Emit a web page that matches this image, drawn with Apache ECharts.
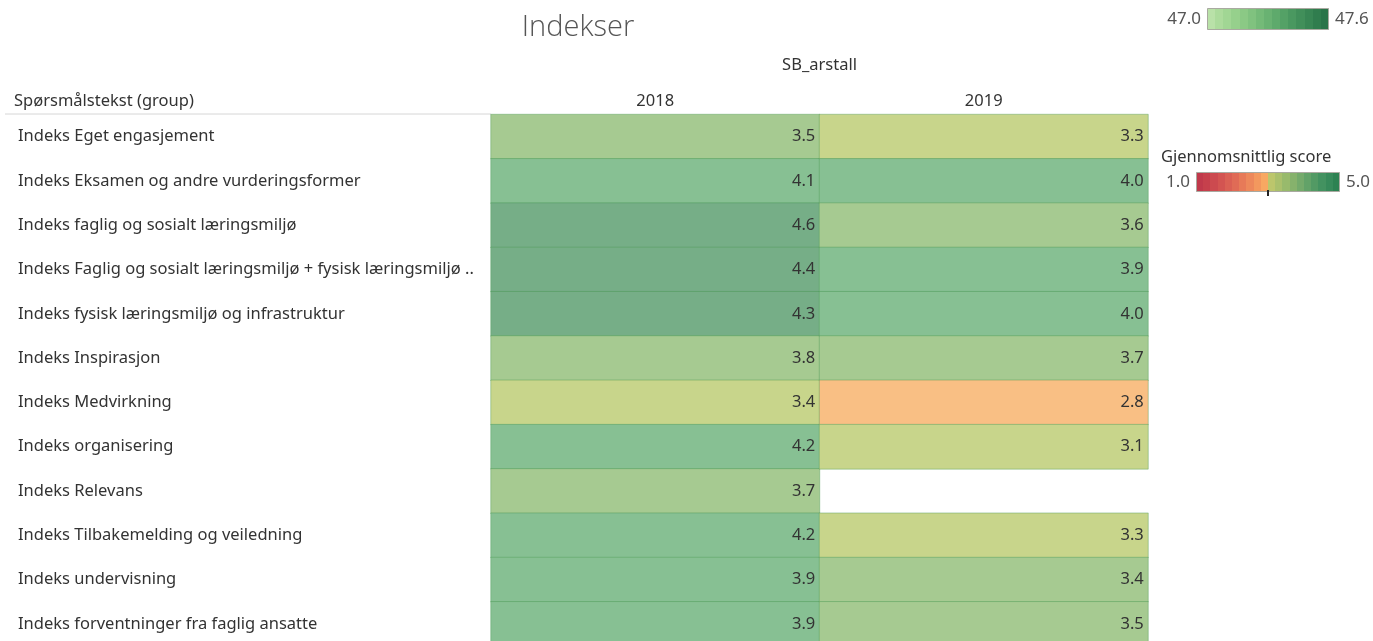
<!DOCTYPE html>
<html>
<head>
<meta charset="utf-8">
<script src="https://cdn.jsdelivr.net/npm/echarts@6/dist/echarts.min.js"></script>
<style>
html,body{margin:0;padding:0;background:#fff;overflow:hidden;}
#c{width:1373px;height:650px;}
</style>
</head>
<body>
<div id="c"></div>
<script>
// ---- data ----
var questions = [
  'Indeks Eget engasjement',
  'Indeks Eksamen og andre vurderingsformer',
  'Indeks faglig og sosialt læringsmiljø',
  'Indeks Faglig og sosialt læringsmiljø + fysisk læringsmiljø ..',
  'Indeks fysisk læringsmiljø og infrastruktur',
  'Indeks Inspirasjon',
  'Indeks Medvirkning',
  'Indeks organisering',
  'Indeks Relevans',
  'Indeks Tilbakemelding og veiledning',
  'Indeks undervisning',
  'Indeks forventninger fra faglig ansatte'
];
var years = ['2018', '2019'];
var scores2018 = [3.5, 4.1, 4.6, 4.4, 4.3, 3.8, 3.38, 4.2, 3.7, 4.2, 3.9, 3.9];
var scores2019 = [3.3, 4.0, 3.6, 3.9, 4.0, 3.7, 2.8, 3.1, null, 3.3, 3.42, 3.5];
var scoreLegendMin = '1.0', scoreLegendMax = '5.0';
var topLegendMin = '47.0', topLegendMax = '47.6';

// ---- build ----
var data = [];
[scores2018, scores2019].forEach(function (arr, xi) {
  arr.forEach(function (v, yi) {
    if (v !== null) data.push([xi, yi, v]);
  });
});

var gridLeft = 491, gridRight = 1148, gridTop = 114.5, rowH = 44.3;
var FONT = '"Noto Sans"';

function stepped(x, y, w, h, colors) {
  var stops = [];
  var n = colors.length;
  colors.forEach(function (c, i) {
    stops.push({offset: i / n, color: c});
    stops.push({offset: (i + 1) / n - 0.0001, color: c});
  });
  return {
    type: 'rect', shape: {x: x, y: y, width: w, height: h},
    style: {fill: new echarts.graphic.LinearGradient(0, 0, 1, 0, stops), stroke: '#a9a9a0', lineWidth: 1}
  };
}
var scoreColors = ['#c0394b','#c6404c','#cc4a4f','#d35451','#da6054','#e06b56','#e77a58','#ed885b','#f3985e','#f8a862',
  '#bcc66c','#aac06c','#98ba6c','#86b26c','#74aa6b','#62a268','#529a64','#439260','#378a5a','#2d8252'];
var greenColors = ['#b9e1a8','#acdb9c','#a1d694','#96d08c','#8bc985','#80c27f','#74ba78','#69b272','#5eaa6c','#54a166',
  '#4a9860','#418f5a','#388654','#307d4e','#2a7449'];

var option = {
  animation: false,
  grid: {left: gridLeft, width: gridRight - gridLeft, top: gridTop, height: rowH * questions.length},
  xAxis: {
    type: 'category', data: years, position: 'top',
    name: 'SB_arstall', nameLocation: 'middle', nameGap: 41,
    nameTextStyle: {color: '#333', fontSize: 16.5, fontFamily: 'Noto Sans'},
    axisLine: {show: false}, axisTick: {show: false}, splitLine: {show: false},
    axisLabel: {color: '#333', fontSize: 16.5, fontFamily: 'Noto Sans', margin: 5}
  },
  yAxis: {
    type: 'category', data: questions, inverse: true,
    axisLine: {show: false}, axisTick: {show: false}, splitLine: {show: false},
    axisLabel: {color: '#333', fontSize: 16.5, fontFamily: 'Noto Sans', align: 'left', margin: 473}
  },
  visualMap: {
    type: 'piecewise', show: false, dimension: 2,
    pieces: [
      {min: 2.5, max: 3.0, color: '#f9bf84'},
      {min: 3.0, max: 3.4, color: '#c8d58b'},
      {min: 3.4, max: 3.85, color: '#a6ca91'},
      {min: 3.85, max: 4.25, color: '#87c093'},
      {min: 4.25, max: 5.0, color: '#76ae87'}
    ]
  },
  series: [{
    type: 'heatmap', data: data,
    itemStyle: {borderColor: 'rgba(70,150,80,0.4)', borderWidth: 1},
    label: {
      show: true, position: 'insideRight', distance: 5,
      color: '#333', fontSize: 16.5, fontFamily: 'Noto Sans',
      formatter: function (p) { return p.value[2].toFixed(1); }
    },
    emphasis: {disabled: true}
  }],
  graphic: [
    {type: 'text', style: {x: 578, y: 28, text: 'Indekser', textAlign: 'center', textVerticalAlign: 'middle',
      font: '300 29px "Open Sans"', fill: '#555'}},
    {type: 'text', style: {x: 14, y: 101, text: 'Spørsmålstekst (group)', textAlign: 'left', textVerticalAlign: 'middle',
      font: '16.5px ' + FONT, fill: '#333'}},
    {type: 'line', shape: {x1: 5, y1: 114, x2: 491, y2: 114}, style: {stroke: '#d6d6d6', lineWidth: 1}},
    // top legend
    {type: 'text', style: {x: 1201, y: 19, text: topLegendMin, textAlign: 'right', textVerticalAlign: 'middle',
      font: '17px ' + FONT, fill: '#555'}},
    stepped(1207.5, 8.5, 121, 21, greenColors),
    {type: 'text', style: {x: 1335, y: 19, text: topLegendMax, textAlign: 'left', textVerticalAlign: 'middle',
      font: '17px ' + FONT, fill: '#555'}},
    // score legend
    {type: 'text', style: {x: 1161, y: 157, text: 'Gjennomsnittlig score', textAlign: 'left', textVerticalAlign: 'middle',
      font: '16.5px ' + FONT, fill: '#333'}},
    {type: 'text', style: {x: 1190, y: 182, text: scoreLegendMin, textAlign: 'right', textVerticalAlign: 'middle',
      font: '17px ' + FONT, fill: '#555'}},
    stepped(1196.5, 172.5, 143, 19, scoreColors),
    {type: 'line', shape: {x1: 1268, y1: 190, x2: 1268, y2: 196}, style: {stroke: '#222', lineWidth: 2}},
    {type: 'text', style: {x: 1346, y: 182, text: scoreLegendMax, textAlign: 'left', textVerticalAlign: 'middle',
      font: '17px ' + FONT, fill: '#555'}}
  ]
};
var chart = echarts.init(document.getElementById('c'));
chart.setOption(option);
</script>
</body>
</html>
